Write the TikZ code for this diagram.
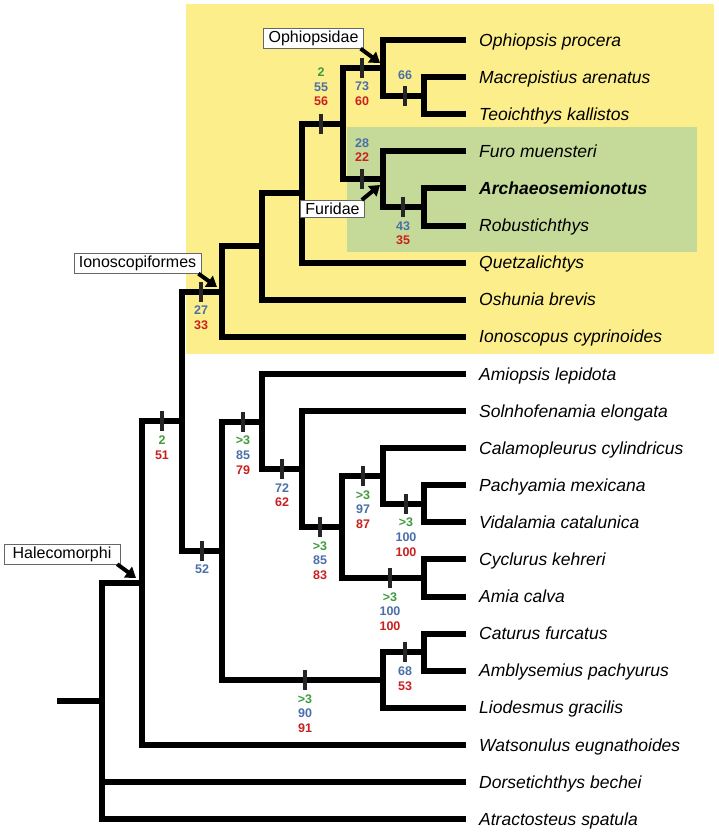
\documentclass[tikz,border=0pt]{standalone}
\usepackage{fontspec}
\setmainfont{Liberation Sans}
\usetikzlibrary{positioning,arrows.meta}
\definecolor{cladeyellow}{RGB}{252,238,138}
\definecolor{cladegreen}{RGB}{197,218,152}
\definecolor{bgreen}{RGB}{62,155,58}
\definecolor{bblue}{RGB}{74,111,168}
\definecolor{bred}{RGB}{200,32,31}
\begin{document}
\begin{tikzpicture}[x=1pt, y=-1pt,
    branch/.style = {line width=6pt},
    tick/.style = {fill=black!85, minimum width=4.5pt, minimum height=20pt, inner sep=0pt},
    taxon/.style = {anchor=west, inner xsep=13pt, text height=12.2pt, text depth=0pt, font=\fontsize{17.5}{20}\selectfont\itshape},
    supp/.style = {inner sep=0pt, align=center, font=\fontsize{12.5}{14.7}\selectfont\bfseries},
    clade/.style = {draw=black!60, fill=white, inner xsep=5pt, inner ysep=2.5pt, font=\fontsize{16}{18}\selectfont},
    callout/.style = {line width=4pt, -{Triangle[length=10pt,width=13pt]}}]
    \useasboundingbox (0,0) rectangle (719,833);
    % clade boxes
    \fill[cladeyellow] (186,4) rectangle (714,354);
    \fill[cladegreen] (347,127) rectangle (697,252);
    % taxa
    \node[taxon] (ophiopsis) at (466,40) {Ophiopsis procera};
    \node[taxon] (macrepistius) at (466,77.1) {Macrepistius arenatus};
    \node[taxon] (teoichthys) at (466,114.2) {Teoichthys kallistos};
    \node[taxon] (furo) at (466,151.3) {Furo muensteri};
    \node[taxon, font=\fontsize{17.5}{20}\selectfont\bfseries\itshape] (archaeo) at (466,188.4) {Archaeosemionotus};
    \node[taxon] (robust) at (466,225.5) {Robustichthys};
    \node[taxon] (quetzal) at (466,262.6) {Quetzalichtys};
    \node[taxon] (oshunia) at (466,299.7) {Oshunia brevis};
    \node[taxon] (ionoscopus) at (466,336.8) {Ionoscopus cyprinoides};
    \node[taxon] (amiopsis) at (466,373.9) {Amiopsis lepidota};
    \node[taxon] (solnhof) at (466,411) {Solnhofenamia elongata};
    \node[taxon] (calamo) at (466,448.1) {Calamopleurus cylindricus};
    \node[taxon] (pachyamia) at (466,485.2) {Pachyamia mexicana};
    \node[taxon] (vidalamia) at (466,522.3) {Vidalamia catalunica};
    \node[taxon] (cyclurus) at (466,559.4) {Cyclurus kehreri};
    \node[taxon] (amia) at (466,596.5) {Amia calva};
    \node[taxon] (caturus) at (466,633.6) {Caturus furcatus};
    \node[taxon] (amblysemius) at (466,670.7) {Amblysemius pachyurus};
    \node[taxon] (liodesmus) at (466,707.8) {Liodesmus gracilis};
    \node[taxon] (watsonulus) at (466,744.9) {Watsonulus eugnathoides};
    \node[taxon] (dorset) at (466,782) {Dorsetichthys bechei};
    \node[taxon] (atract) at (466,819.1) {Atractosteus spatula};
    % internal nodes
    \coordinate (ophi) at (424,95.7);
    \coordinate (ophd) at (383,67.8);
    \coordinate (arro) at (424,207);
    \coordinate (furi) at (383,179.1);
    \coordinate (ofc) at (343,123.5);
    \coordinate (qz) at (302,193);
    \coordinate (osh) at (262,246.4);
    \coordinate (iono) at (222,291.6);
    \coordinate (pv) at (424,503.8);
    \coordinate (cal) at (383,475.9);
    \coordinate (ca) at (424,578);
    \coordinate (amii) at (342,527);
    \coordinate (sol) at (302,469);
    \coordinate (amio) at (262,421.5);
    \coordinate (catam) at (424,652.2);
    \coordinate (lio) at (383,680);
    \coordinate (amf) at (222,550.7);
    \coordinate (ia) at (182,421.2);
    \coordinate (hal) at (142,583);
    \coordinate (root) at (102,701);
    \coordinate (stem) at (57,701);
    % branches
    \draw[branch] (ophi) |- (macrepistius.west);
    \draw[branch] (ophi) |- (teoichthys.west);
    \draw[branch] (ophd) |- (ophiopsis.west);
    \draw[branch] (ophd) |- (ophi);
    \draw[branch] (arro) |- (archaeo.west);
    \draw[branch] (arro) |- (robust.west);
    \draw[branch] (furi) |- (furo.west);
    \draw[branch] (furi) |- (arro);
    \draw[branch] (ofc) |- (ophd);
    \draw[branch] (ofc) |- (furi);
    \draw[branch] (qz) |- (ofc);
    \draw[branch] (qz) |- (quetzal.west);
    \draw[branch] (osh) |- (qz);
    \draw[branch] (osh) |- (oshunia.west);
    \draw[branch] (iono) |- (osh);
    \draw[branch] (iono) |- (ionoscopus.west);
    \draw[branch] (pv) |- (pachyamia.west);
    \draw[branch] (pv) |- (vidalamia.west);
    \draw[branch] (cal) |- (calamo.west);
    \draw[branch] (cal) |- (pv);
    \draw[branch] (ca) |- (cyclurus.west);
    \draw[branch] (ca) |- (amia.west);
    \draw[branch] (amii) |- (cal);
    \draw[branch] (amii) |- (ca);
    \draw[branch] (sol) |- (solnhof.west);
    \draw[branch] (sol) |- (amii);
    \draw[branch] (amio) |- (amiopsis.west);
    \draw[branch] (amio) |- (sol);
    \draw[branch] (catam) |- (caturus.west);
    \draw[branch] (catam) |- (amblysemius.west);
    \draw[branch] (lio) |- (catam);
    \draw[branch] (lio) |- (liodesmus.west);
    \draw[branch] (amf) |- (amio);
    \draw[branch] (amf) |- (lio);
    \draw[branch] (ia) |- (iono);
    \draw[branch] (ia) |- (amf);
    \draw[branch] (hal) |- (ia);
    \draw[branch] (hal) |- (watsonulus.west);
    \draw[branch] (root) |- (hal);
    \draw[branch] (root) |- (dorset.west);
    \draw[branch] (root) |- (atract.west);
    \draw[branch] (stem) -- (root);
    % ticks and support values
    \node[tick] (t1) at (321,123.5) {};
    \node[supp, above=7pt of t1] (s1) {\textcolor{bgreen}{2}\\\textcolor{bblue}{55}\\\textcolor{bred}{56}};
    \node[tick] (t2) at (362,67.8) {};
    \node[supp, below=4pt of t2] (s2) {\textcolor{bblue}{73}\\\textcolor{bred}{60}};
    \node[tick] (t3) at (405,95.7) {};
    \node[supp, above=6pt of t3] (s3) {\textcolor{bblue}{66}};
    \node[tick] (t4) at (362,179.1) {};
    \node[supp, above=7pt of t4] (s4) {\textcolor{bblue}{28}\\\textcolor{bred}{22}};
    \node[tick] (t5) at (403,207) {};
    \node[supp, below=4pt of t5] (s5) {\textcolor{bblue}{43}\\\textcolor{bred}{35}};
    \node[tick] (t6) at (201,291.6) {};
    \node[supp, below=4pt of t6] (s6) {\textcolor{bblue}{27}\\\textcolor{bred}{33}};
    \node[tick] (t7) at (162,421.2) {};
    \node[supp, below=4pt of t7] (s7) {\textcolor{bgreen}{2}\\\textcolor{bred}{51}};
    \node[tick] (t8) at (202,550.7) {};
    \node[supp, below=4pt of t8] (s8) {\textcolor{bblue}{52}};
    \node[tick] (t9) at (243,421.5) {};
    \node[supp, below=4pt of t9] (s9) {\textcolor{bgreen}{>3}\\\textcolor{bblue}{85}\\\textcolor{bred}{79}};
    \node[tick] (t10) at (282,469) {};
    \node[supp, below=4pt of t10] (s10) {\textcolor{bblue}{72}\\\textcolor{bred}{62}};
    \node[tick] (t11) at (320,527) {};
    \node[supp, below=4pt of t11] (s11) {\textcolor{bgreen}{>3}\\\textcolor{bblue}{85}\\\textcolor{bred}{83}};
    \node[tick] (t12) at (363,475.9) {};
    \node[supp, below=4pt of t12] (s12) {\textcolor{bgreen}{>3}\\\textcolor{bblue}{97}\\\textcolor{bred}{87}};
    \node[tick] (t13) at (406,503.8) {};
    \node[supp, below=4pt of t13] (s13) {\textcolor{bgreen}{>3}\\\textcolor{bblue}{100}\\\textcolor{bred}{100}};
    \node[tick] (t14) at (390,578) {};
    \node[supp, below=4pt of t14] (s14) {\textcolor{bgreen}{>3}\\\textcolor{bblue}{100}\\\textcolor{bred}{100}};
    \node[tick] (t15) at (405,652.2) {};
    \node[supp, below=4pt of t15] (s15) {\textcolor{bblue}{68}\\\textcolor{bred}{53}};
    \node[tick] (t16) at (305,680) {};
    \node[supp, below=4pt of t16] (s16) {\textcolor{bgreen}{>3}\\\textcolor{bblue}{90}\\\textcolor{bred}{91}};
    % clade names
    \node[clade] (ophiopsidae) at (313.5,38.5) {Ophiopsidae};
    \node[clade] (furidae) at (332.5,208.5) {Furidae};
    \node[clade] (ionoscopiformes) at (137.5,263.5) {Ionoscopiformes};
    \node[clade, minimum width=116pt] (halecomorphi) at (62,554) {Halecomorphi};
    \coordinate (ophd-tip) at (380,63);
    \coordinate (furi-tip) at (380,185);
    \coordinate (iono-tip) at (217,287);
    \coordinate (hal-tip) at (136,578);
    \draw[callout] ([xshift=-3pt]ophiopsidae.south east) -- (ophd-tip);
    \draw[callout] ([xshift=-3pt]furidae.north east) -- (furi-tip);
    \draw[callout] ([xshift=-3pt]ionoscopiformes.south east) -- (iono-tip);
    \draw[callout] ([xshift=-3pt]halecomorphi.south east) -- (hal-tip);
\end{tikzpicture}
\end{document}
